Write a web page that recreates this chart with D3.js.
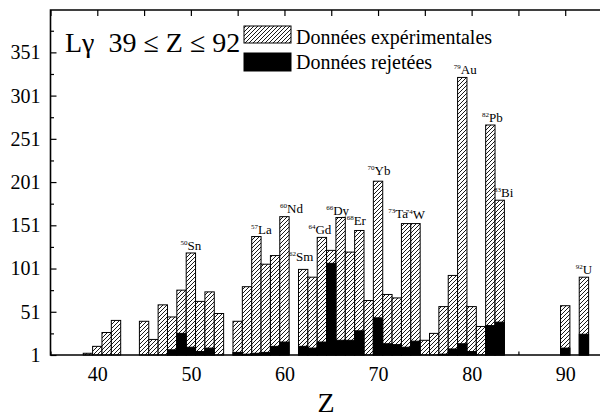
<!DOCTYPE html>
<html>
<head>
<meta charset="utf-8">
<script src="https://cdn.jsdelivr.net/npm/d3@7"></script>
<style>
  html, body { margin: 0; padding: 0; background: #fff; }
  svg, svg text { font-family: "Liberation Serif", "Times New Roman", serif; }
</style>
</head>
<body>
<div id="chart"></div>
<script>
/* Lγ data counts per element (39 ≤ Z ≤ 92): hatched = all experimental
   points found, black = the part that was rejected. */

// ---- data ----
var Z_VALUES = [39, 40, 41, 42, 45, 46, 47, 48, 49, 50, 51, 52, 53, 55, 56, 57, 58, 59, 60,
  62, 63, 64, 65, 66, 67, 68, 69, 70, 71, 72, 73, 74, 75, 76, 77, 78, 79, 80, 81, 82, 83, 90, 92];
var EXPERIMENTAL = [3, 11, 27, 41, 40, 19, 59, 45, 76, 119, 63, 74, 49, 40, 80, 138, 106, 116, 161,
  100, 91, 137, 122, 160, 120, 145, 64, 202, 71, 67, 153, 153, 18, 26, 57, 93, 322, 57, 34, 267, 180, 58, 91];
var REJECTED = [0, 0, 0, 0, 0, 0, 0, 7, 26, 10, 5, 9, 0, 4, 2, 3, 4, 11, 16,
  11, 9, 16, 107, 18, 18, 29, 0, 44, 14, 13, 10, 17, 0, 0, 2, 8, 14, 5, 0, 35, 39, 9, 25];

var Y_TICKS = [1, 51, 101, 151, 201, 251, 301, 351];
var Y_MINOR = [26, 76, 126, 176, 226, 276, 326, 376];
var X_TICKS = [40, 50, 60, 70, 80, 90];
var X_MINOR = [35, 45, 55, 65, 75, 85, 95];

// labelled elements: [Z, symbol]
var ELEMENTS = [[50, "Sn"], [57, "La"], [60, "Nd"], [62, "Sm"], [64, "Gd"], [66, "Dy"], [68, "Er"],
  [70, "Yb"], [73, "Ta"], [74, "W"], [79, "Au"], [82, "Pb"], [83, "Bi"], [92, "U"]];

var LEGEND = ["Données expérimentales", "Données rejetées"];
var TITLE = "Lγ  39 ≤ Z ≤ 92";

(function () {
  "use strict";
  var W = 600, H = 418, FONT = "Liberation Serif, Times New Roman, serif";
  var rows = Z_VALUES.map(function (z, i) { return { z: z, exp: EXPERIMENTAL[i], rej: REJECTED[i] }; });

  var svg = d3.select("#chart").append("svg").attr("width", W).attr("height", H)
    .attr("font-family", FONT);

  var x = d3.scaleLinear().domain([35, 95]).range([50.5, 612]);
  var y = d3.scaleLinear().domain([1, 400]).range([355, 10]);
  var bw = x(1) - x(0);

  // hatch pattern "////"
  var pat = svg.append("defs").append("pattern").attr("id", "hatch")
    .attr("patternUnits", "userSpaceOnUse").attr("width", 4).attr("height", 4);
  pat.append("rect").attr("width", 4).attr("height", 4).attr("fill", "#fff");
  pat.append("path").attr("d", "M-1,1 L1,-1 M0,4 L4,0 M3,5 L5,3")
    .attr("stroke", "#000").attr("stroke-width", 0.9);

  // ---- axes (ticks point inward) ----
  function clean(g) {
    g.attr("font-family", FONT);
    g.select(".domain").remove();
    g.selectAll("line").attr("stroke", "#000").attr("stroke-width", 1.2);
  }

  svg.append("g").attr("transform", "translate(" + x(35) + ",0)")
    .call(d3.axisLeft(y).tickValues(Y_TICKS).tickSize(-6).tickPadding(10))
    .call(clean)
    .selectAll("text").attr("font-size", 20).attr("font-family", FONT).attr("fill", "#000");
  svg.append("g").attr("transform", "translate(" + x(35) + ",0)")
    .call(d3.axisLeft(y).tickValues(Y_MINOR).tickSize(-3.5).tickFormat(""))
    .call(clean);

  svg.append("g").attr("transform", "translate(0," + y(1) + ")")
    .call(d3.axisBottom(x).tickValues(X_TICKS).tickSize(-6).tickPadding(12))
    .call(clean)
    .selectAll("text").attr("font-size", 20).attr("font-family", FONT).attr("fill", "#000");
  svg.append("g").attr("transform", "translate(0," + y(1) + ")")
    .call(d3.axisBottom(x).tickValues(X_MINOR).tickSize(-3.5).tickFormat(""))
    .call(clean);

  svg.append("g").attr("transform", "translate(0," + y(400) + ")")
    .call(d3.axisTop(x).tickValues(X_TICKS.concat(X_MINOR)).tickSize(-6).tickFormat(""))
    .call(clean);

  // ---- bars ----
  var bars = svg.append("g");
  bars.selectAll("rect.exp").data(rows).join("rect").attr("class", "exp")
    .attr("x", function (d) { return x(d.z - 0.5); })
    .attr("width", bw)
    .attr("y", function (d) { return y(d.exp); })
    .attr("height", function (d) { return y(1) - y(d.exp); })
    .attr("fill", "url(#hatch)").attr("stroke", "#000").attr("stroke-width", 1);
  bars.selectAll("rect.rej").data(rows.filter(function (d) { return d.rej > 0; })).join("rect").attr("class", "rej")
    .attr("x", function (d) { return x(d.z - 0.5); })
    .attr("width", bw)
    .attr("y", function (d) { return y(d.rej); })
    .attr("height", function (d) { return y(1) - y(d.rej); })
    .attr("fill", "#000").attr("stroke", "#000").attr("stroke-width", 1);

  // ---- element labels, ^Z + symbol above the bar ----
  var NUDGE = { 57: [5, 0], 60: [7, -1], 62: [-2, -5], 64: [-2, 0], 66: [-3, 0], 68: [-3, -2],
    70: [1, -3], 73: [-8, -3], 74: [0, -2], 79: [3, 0], 82: [2, 0], 83: [4, 0] };
  var byZ = {};
  rows.forEach(function (d) { byZ[d.z] = d; });
  var lbl = svg.append("g");
  ELEMENTS.forEach(function (e) {
    var d = byZ[e[0]], n = NUDGE[e[0]] || [0, 0];
    var t = lbl.append("text").attr("text-anchor", "middle").attr("font-family", FONT)
      .attr("x", x(d.z) + n[0]).attr("y", y(d.exp) - 3 + n[1]).attr("fill", "#000");
    t.append("tspan").attr("font-size", 7).attr("dy", -5).text(e[0]);
    t.append("tspan").attr("font-size", 13).attr("dy", 5).text(e[1]);
  });

  // ---- frame ----
  svg.append("path")
    .attr("d", "M" + x(95) + "," + y(400) + "H" + x(35) + "V" + y(1) + "H" + x(95))
    .attr("fill", "none").attr("stroke", "#000").attr("stroke-width", 1.6);

  // ---- title & legend ----
  svg.append("text").attr("x", 65).attr("y", 52).attr("font-size", 28).attr("font-family", FONT)
    .attr("xml:space", "preserve").style("white-space", "pre").text(TITLE);

  var lg = svg.append("g");
  lg.append("rect").attr("x", 244).attr("y", 26).attr("width", 47).attr("height", 17)
    .attr("fill", "url(#hatch)").attr("stroke", "#000").attr("stroke-width", 1);
  lg.append("rect").attr("x", 244).attr("y", 53).attr("width", 47).attr("height", 18)
    .attr("fill", "#000").attr("stroke", "#000").attr("stroke-width", 1);
  lg.selectAll("text").data(LEGEND).join("text")
    .attr("x", 296).attr("y", function (d, i) { return i ? 69 : 44; })
    .attr("font-size", 20).attr("font-family", FONT).text(function (d) { return d; });

  // axis title
  svg.append("text").attr("x", 326).attr("y", 412).attr("text-anchor", "middle")
    .attr("font-size", 28).attr("font-family", FONT).text("Z");
})();
</script>
</body>
</html>
